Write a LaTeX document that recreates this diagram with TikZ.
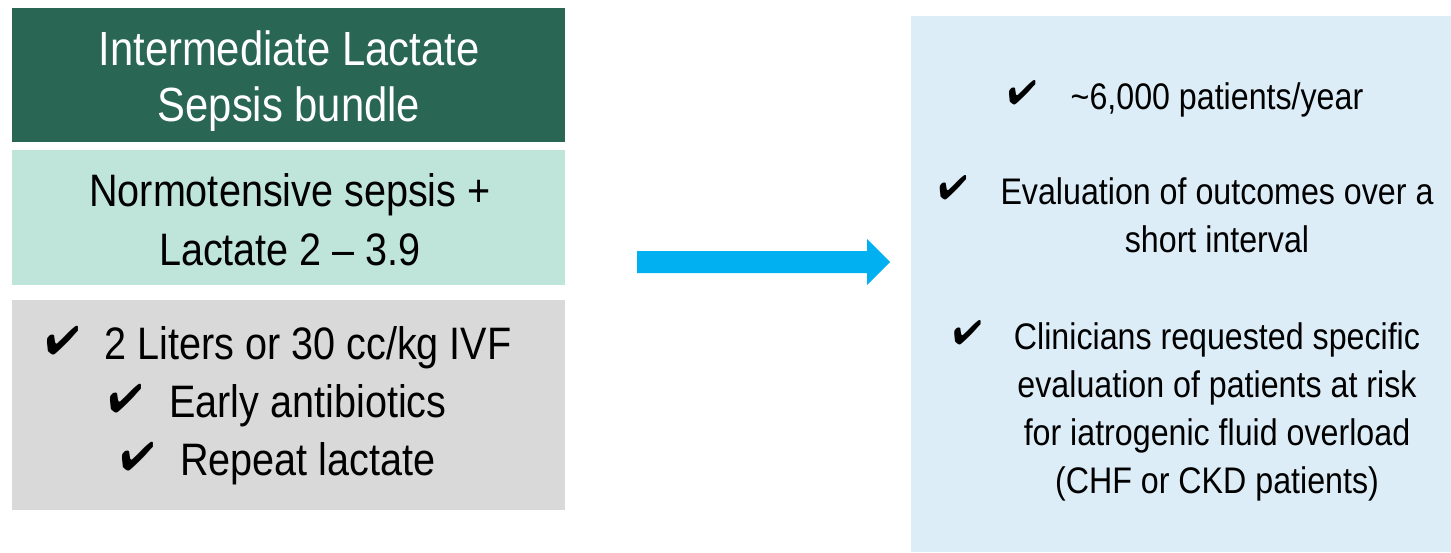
\documentclass[tikz,border=0pt]{standalone}
\usepackage{fontspec}
\setmainfont[FakeStretch=0.87]{Liberation Sans}
\usepackage{pifont}

\definecolor{headgreen}{HTML}{296654}
\definecolor{critgreen}{HTML}{BFE4DA}
\definecolor{bundlegray}{HTML}{D9D9D9}
\definecolor{arrowblue}{HTML}{00B0F0}
\definecolor{notesblue}{HTML}{DCEDF7}

% check mark hanging to the left of a centred line
\newcommand{\tick}[2]{\llap{\raisebox{5pt}{\fontsize{#1}{#1}\selectfont\ding{52}}\hspace{#2}}}

\begin{document}
\begin{tikzpicture}[x=1pt,y=-1pt,
  panel/.style={draw=none, inner sep=0, outer sep=0, anchor=north west},
  txt/.style={anchor=base, align=center, inner sep=0, outer sep=0, text=black},
  bigtxt/.style={txt, font=\fontsize{45.5}{57}\selectfont},
  smalltxt/.style={txt, font=\fontsize{37}{48}\selectfont}]
\useasboundingbox (0,0) rectangle (1451,552);

% left column of boxes
\node[panel, fill=headgreen, minimum width=553, minimum height=134] (head) at (12,8) {};
\node[panel, fill=critgreen, minimum width=553, minimum height=135] (crit) at (12,150) {};
\node[panel, fill=bundlegray, minimum width=553, minimum height=210] (bundle) at (12,300) {};

% right notes panel
\node[panel, fill=notesblue, minimum width=540, minimum height=536] (notes) at (911,16) {};

% block arrow between the columns
\fill[arrowblue] (637,251) -- (867,251) -- (867,239) -- (890,262) -- (867,285)
  -- (867,273) -- (637,273) -- cycle;

% texts of the left column (anchored at the baseline of their last line)
\node[txt, text=white, font=\fontsize{48}{56}\selectfont] (headtxt) at (289,121)
  {Intermediate Lactate\\Sepsis bundle};
\node[bigtxt, font=\fontsize{45.5}{59}\selectfont] (crittxt) at (290,265)
  {Normotensive sepsis +\\Lactate 2 -- 3.9};
\node[bigtxt, font=\fontsize{45.5}{58}\selectfont] (bundletxt) at (308,475)
  {\tick{40}{25pt}2 Liters or 30 cc/kg IVF\\
   \tick{40}{27pt}Early antibiotics\\
   \tick{40}{26pt}Repeat lactate};

% texts of the notes panel
\node[smalltxt] (note1) at (1217,109) {\tick{34}{34pt}\textasciitilde6,000 patients/year};
\node[smalltxt] (note2) at (1217,252) {\tick{34}{33pt}Evaluation of outcomes over a\\short interval};
\node[smalltxt] (note3) at (1217,493)
  {\tick{34}{32pt}Clinicians requested specific\\evaluation of patients at risk\\
   for iatrogenic fluid overload\\(CHF or CKD patients)};
\end{tikzpicture}
\end{document}
